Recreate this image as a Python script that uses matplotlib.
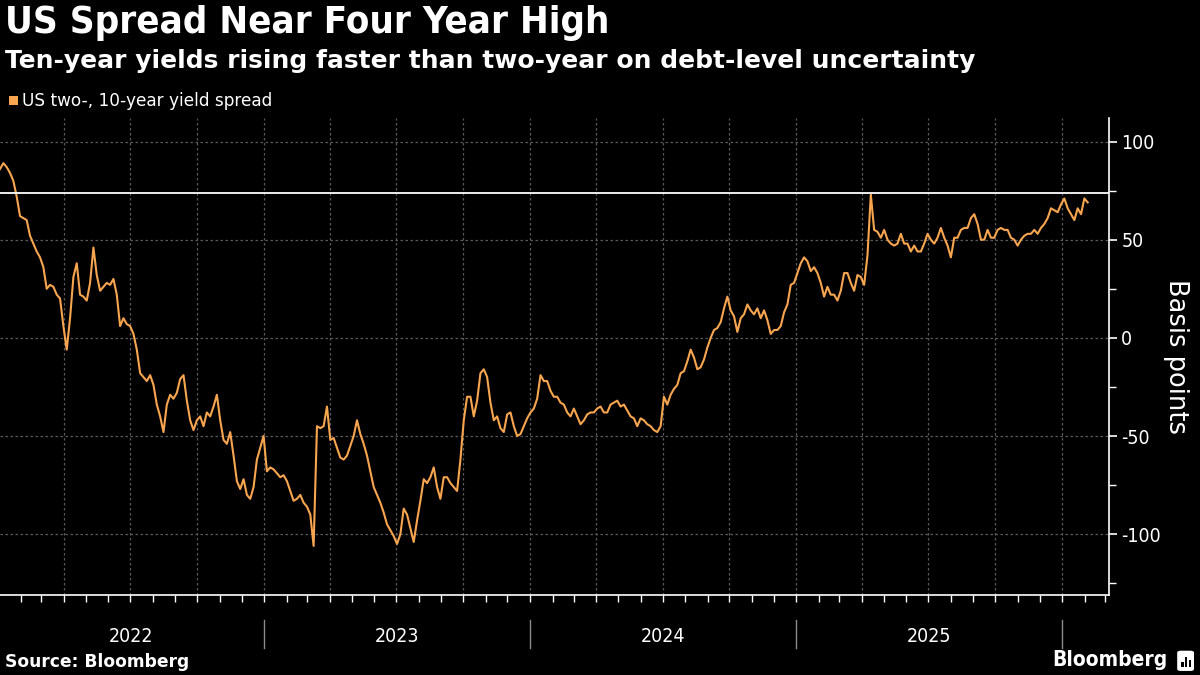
import matplotlib
matplotlib.use("Agg")
import matplotlib.pyplot as plt
import matplotlib.dates as mdates
import matplotlib.transforms as mtransforms
from matplotlib.patches import FancyBboxPatch, Rectangle
import pandas as pd

# US 2s10s spread (bp) at ~4.6-day steps
SPREAD_BP = [
    86, 89, 87, 84, 80, 72, 62, 61, 60, 52,
    48, 44, 41, 36, 25, 27, 26, 22, 20, 6,
    -6, 10, 31, 38, 22, 21, 19, 28, 46, 32,
    24, 26, 28, 27, 30, 22, 6, 10, 7, 6,
    2, -6, -18, -20, -22, -19, -24, -34, -40, -48,
    -34, -29, -31, -28, -21, -19, -32, -42, -47, -42,
    -40, -45, -38, -40, -35, -29, -42, -52, -54, -48,
    -60, -73, -77, -72, -80, -82, -76, -62, -56, -50,
    -68, -66, -67, -69, -71, -70, -73, -78, -83, -82,
    -80, -84, -86, -90, -106, -45, -46, -45, -35, -52,
    -51, -56, -61, -62, -60, -55, -50, -42, -49, -54,
    -60, -68, -76, -80, -84, -89, -95, -98, -101, -105,
    -100, -87, -90, -97, -104, -93, -83, -72, -74, -71,
    -66, -76, -82, -71, -71, -74, -76, -78, -62, -42,
    -30, -30, -40, -32, -18, -16, -20, -33, -42, -40,
    -46, -48, -39, -38, -45, -50, -49, -45, -41, -38,
    -36, -31, -19, -22, -22, -27, -30, -30, -33, -34,
    -38, -40, -36, -40, -44, -42, -39, -38, -38, -36,
    -35, -38, -38, -34, -33, -32, -35, -34, -37, -40,
    -41, -45, -41, -42, -44, -45, -47, -48, -45, -30,
    -34, -29, -26, -24, -18, -17, -12, -6, -10, -16,
    -15, -11, -5, 0, 4, 5, 8, 15, 21, 14,
    11, 3, 10, 12, 17, 14, 12, 15, 10, 14,
    9, 2, 4, 4, 6, 13, 17, 27, 28, 33,
    38, 41, 39, 34, 36, 33, 28, 21, 26, 22,
    22, 19, 24, 33, 33, 28, 24, 32, 31, 27,
    42, 73, 55, 54, 51, 55, 50, 48, 47, 48,
    53, 48, 48, 44, 47, 44, 44, 48, 53, 50,
    48, 51, 56, 51, 47, 41, 51, 51, 55, 56,
    56, 61, 63, 58, 50, 50, 55, 51, 51, 55,
    56, 55, 55, 51, 50, 47, 50, 52, 53, 53,
    55, 53, 56, 58, 61, 66, 65, 64, 68, 71,
    66, 63, 60, 66, 63, 71, 69,
]
START, END = "2022-01-03", "2026-02-05"
RECENT_HIGH = 74
YEARS = [2022, 2023, 2024, 2025]

TITLE = "US Spread Near Four Year High"
SUBTITLE = "Ten-year yields rising faster than two-year on debt-level uncertainty"
LEGEND = "US two-, 10-year yield spread"

ORANGE = "#f8a54f"
GRID = "#5a5a5a"
COND = "condensed"   # DejaVu Sans Condensed face

dates = pd.date_range(START, END, periods=len(SPREAD_BP))

fig = plt.figure(figsize=(12, 6.75), dpi=100, facecolor="black")
ax = fig.add_axes([0.0, 0.1185, 0.924, 0.7067], facecolor="black")

ax.plot(dates, SPREAD_BP, color=ORANGE, linewidth=1.5, zorder=3)
ax.axhline(RECENT_HIGH, color="white", linewidth=1.3, zorder=4)

ax.set_xlim(pd.Timestamp("2022-01-03"), pd.Timestamp("2026-03-06"))
ax.set_ylim(-131, 112)

# y axis on the right
ax.yaxis.tick_right()
ax.set_yticks([-100, -50, 0, 50, 100])
ax.set_yticklabels(["-100", "-50", "0", "50", "100"])
ax.set_yticks([-125, -75, -25, 25, 75], minor=True)
ax.tick_params(axis="y", which="major", colors="white", length=6, width=1.2,
               labelsize=14, pad=3)
ax.tick_params(axis="y", which="minor", colors="white", length=5, width=1)
for lbl in ax.get_yticklabels():
    lbl.set_fontstretch(COND)
ax.yaxis.set_label_position("right")
ax.set_ylabel("Basis points", color="white", fontsize=18.5, rotation=270,
              labelpad=20)

# x axis: monthly minor ticks, year labels centred mid-year
mid_years = [pd.Timestamp(f"{y}-07-02") for y in YEARS]
ax.set_xticks(mid_years)
ax.set_xticklabels([str(y) for y in YEARS])
ax.xaxis.set_minor_locator(mdates.MonthLocator())
ax.tick_params(axis="x", which="major", length=0, colors="white",
               labelsize=14, pad=23)
ax.tick_params(axis="x", which="minor", length=5, width=1, colors="white")
for lbl in ax.get_xticklabels():
    lbl.set_fontstretch(COND)

# year separators below the axis
trans = mtransforms.blended_transform_factory(ax.transData, ax.transAxes)
for y in YEARS[1:] + [YEARS[-1] + 1]:
    d = mdates.date2num(pd.Timestamp(f"{y}-01-01"))
    ax.plot([d, d], [-0.052, -0.111], transform=trans, color="#8a8a8a",
            linewidth=1, clip_on=False)

# quarterly vertical grid, horizontal grid on majors
for q in pd.date_range("2022-01-01", "2026-03-01", freq="QS"):
    ax.axvline(q, color=GRID, linewidth=0.9, linestyle=(0, (2, 2)), zorder=1)
ax.grid(axis="y", which="major", color=GRID, linewidth=0.9,
        linestyle=(0, (2, 2)), zorder=1)

for side in ("left", "top"):
    ax.spines[side].set_visible(False)
for side in ("right", "bottom"):
    ax.spines[side].set_color("white")
    ax.spines[side].set_linewidth(1.2)

# titles and legend
fig.text(0.004, 0.966, TITLE, color="white", fontsize=27.5, fontweight="bold",
         fontstretch=COND, va="center", ha="left")
fig.text(0.004, 0.910, SUBTITLE, color="white", fontsize=18, fontweight="bold",
         va="center", ha="left")
fig.patches.append(Rectangle((0.0075, 0.845), 0.0072, 0.0135, transform=fig.transFigure,
                             facecolor=ORANGE, edgecolor="none"))
fig.text(0.018, 0.851, LEGEND, color="white", fontsize=12.2,
         va="center", ha="left")

# footer
fig.text(0.004, 0.019, "Source: Bloomberg", color="white", fontsize=12.3,
         fontweight="bold", va="center", ha="left")
fig.text(0.973, 0.022, "Bloomberg", color="white", fontsize=15,
         fontweight="bold", fontstretch=COND, va="center", ha="right")
fig.patches.append(FancyBboxPatch((0.982, 0.007), 0.012, 0.028,
                                  boxstyle="round,pad=0.001,rounding_size=0.003",
                                  transform=fig.transFigure, facecolor="white",
                                  edgecolor="none"))
for bx, bh in [(0.9845, 0.008), (0.9875, 0.014), (0.9905, 0.010)]:
    fig.patches.append(Rectangle((bx, 0.012), 0.0018, bh, transform=fig.transFigure,
                                 facecolor="black", edgecolor="none"))

fig.savefig("out.png", dpi=100, facecolor="black")
